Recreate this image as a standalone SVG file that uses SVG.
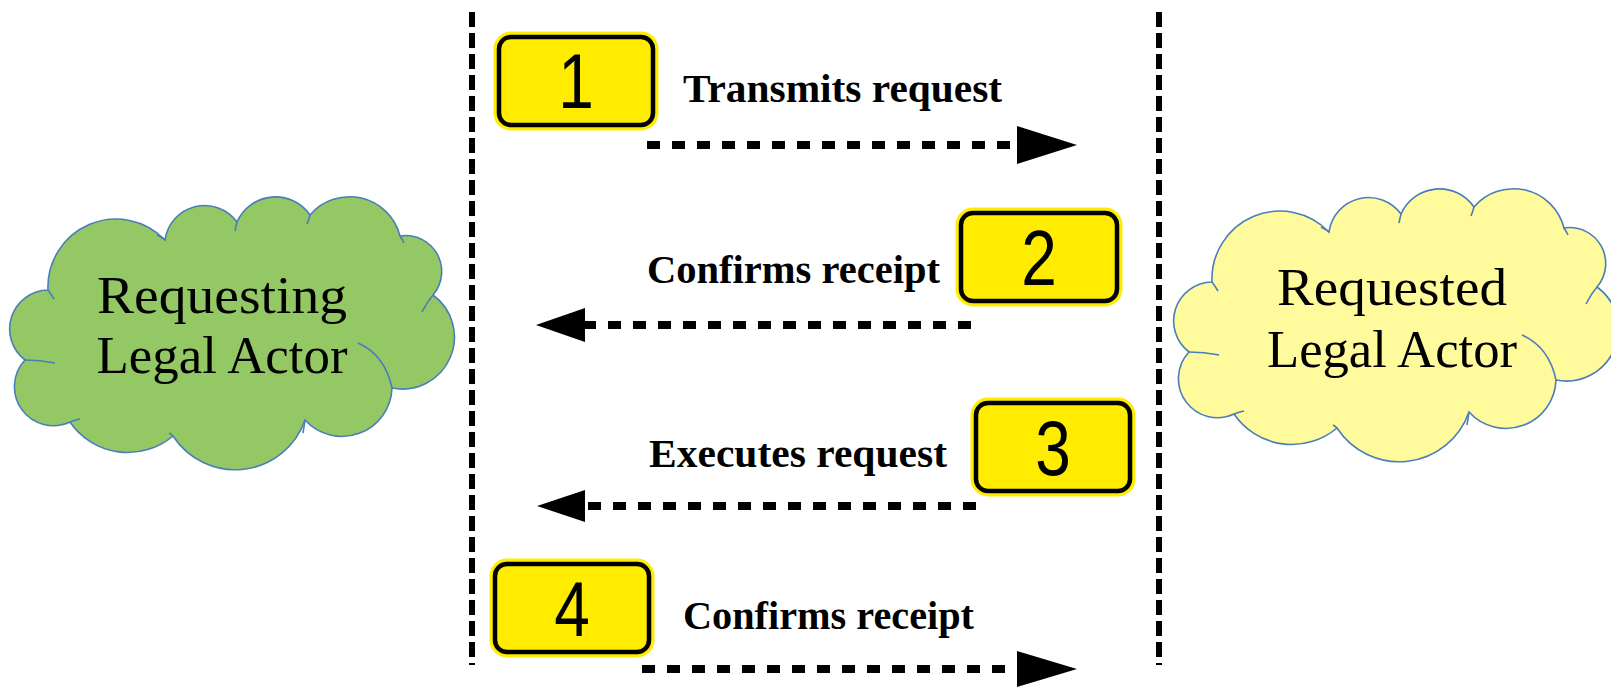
<svg xmlns="http://www.w3.org/2000/svg" width="1611" height="688" viewBox="0 0 1611 688">
<style>
.life{stroke:#000;stroke-width:6;stroke-dasharray:15 6;fill:none}
.msg{stroke:#000;stroke-width:8;stroke-dasharray:13 12;fill:none}
.head{fill:#000}
.glow{fill:#FFEC00;stroke:#FFEC00;stroke-width:11}
.box{fill:#FFEC00;stroke:#000;stroke-width:4.5}
.num{font-family:"Liberation Sans",Arial,sans-serif;font-size:78px;fill:#000;text-anchor:middle}
.lbl{font-family:"Liberation Serif","Times New Roman",serif;font-weight:bold;font-size:40px;fill:#000}
.cloud{stroke:#4A7DBA;stroke-width:1.6}
.stub{fill:none;stroke:#4A7DBA;stroke-width:1.6}
.ctext{font-family:"Liberation Serif","Times New Roman",serif;font-size:52px;fill:#000;text-anchor:middle}
</style>
<defs>
<path id="cloudShape" d="M 48 290 A 68 68 0 0 1 165 240 A 40 40 0 0 1 237 222 A 42 42 0 0 1 310 215 A 52 52 0 0 1 400 236 A 36 36 0 0 1 433 295 A 52 52 0 0 1 392 388 A 50 50 0 0 1 305 420 A 74 74 0 0 1 173 436 A 70 70 0 0 1 70 422 A 39 39 0 0 1 25 360 A 39 39 0 0 1 48 290 Z"/>
<path id="cloudStubs" d="M 48 290 Q 51 294 54 299 M 165 240 Q 163 238 157 235 M 237 222 Q 236 226 235 231 M 310 215 Q 309 219 307 224 M 400 236 Q 402 239 404 243 M 433 295 Q 427 302 422 312 M 358 343 Q 385 355 392 388 M 305 420 Q 304 427 303 433 M 173 436 Q 171 434 169 433 M 70 422 Q 75 420 80 419 M 25 360 Q 40 360 55 363"/>
</defs>

<g id="lifelines">
<line class="life" x1="472" y1="12" x2="472" y2="665"/>
<line class="life" x1="1159" y1="12" x2="1159" y2="665"/>
</g>

<g id="requesting-actor">
<use href="#cloudShape" class="cloud" fill="#93C865"/>
<use href="#cloudStubs" class="stub"/>
<text class="ctext" x="222" y="313" textLength="250" lengthAdjust="spacingAndGlyphs">Requesting</text>
<text class="ctext" x="222" y="373" textLength="251" lengthAdjust="spacingAndGlyphs">Legal Actor</text>
</g>

<g id="requested-actor">
<g transform="translate(1164,-8)">
<use href="#cloudShape" class="cloud" fill="#FFFA9C"/>
<use href="#cloudStubs" class="stub"/>
</g>
<text class="ctext" x="1392" y="305" textLength="230" lengthAdjust="spacingAndGlyphs">Requested</text>
<text class="ctext" x="1392" y="367" textLength="250" lengthAdjust="spacingAndGlyphs">Legal Actor</text>
</g>

<g id="step1">
<rect class="glow" x="499" y="37" width="154" height="88" rx="12"/>
<rect class="box" x="499" y="37" width="154" height="88" rx="12"/>
<text class="num" transform="translate(576,108) scale(0.82,1)">1</text>
</g>
<g id="step2">
<rect class="glow" x="961" y="213" width="156" height="88" rx="12"/>
<rect class="box" x="961" y="213" width="156" height="88" rx="12"/>
<text class="num" transform="translate(1039,285) scale(0.82,1)">2</text>
</g>
<g id="step3">
<rect class="glow" x="976" y="403" width="154" height="88" rx="12"/>
<rect class="box" x="976" y="403" width="154" height="88" rx="12"/>
<text class="num" transform="translate(1053,475) scale(0.82,1)">3</text>
</g>
<g id="step4">
<rect class="glow" x="495" y="564" width="154" height="88" rx="12"/>
<rect class="box" x="495" y="564" width="154" height="88" rx="12"/>
<text class="num" transform="translate(572,636) scale(0.82,1)">4</text>
</g>

<g id="connectors">
<line class="msg" x1="647" y1="145" x2="1018" y2="145"/>
<polygon class="head" points="1017,126 1077,145 1017,164"/>
<text class="lbl" x="683" y="102" textLength="319" lengthAdjust="spacingAndGlyphs">Transmits request</text>

<line class="msg" x1="971" y1="325" x2="584" y2="325"/>
<polygon class="head" points="585,308 536,325 585,342"/>
<text class="lbl" x="647" y="283" textLength="293" lengthAdjust="spacingAndGlyphs">Confirms receipt</text>

<line class="msg" x1="976" y1="506" x2="584" y2="506"/>
<polygon class="head" points="585,490 537,506 585,522"/>
<text class="lbl" x="649" y="467" textLength="298" lengthAdjust="spacingAndGlyphs">Executes request</text>

<line class="msg" x1="642" y1="669" x2="1018" y2="669"/>
<polygon class="head" points="1017,651 1077,669 1017,687"/>
<text class="lbl" x="683" y="629" textLength="291" lengthAdjust="spacingAndGlyphs">Confirms receipt</text>
</g>
</svg>
